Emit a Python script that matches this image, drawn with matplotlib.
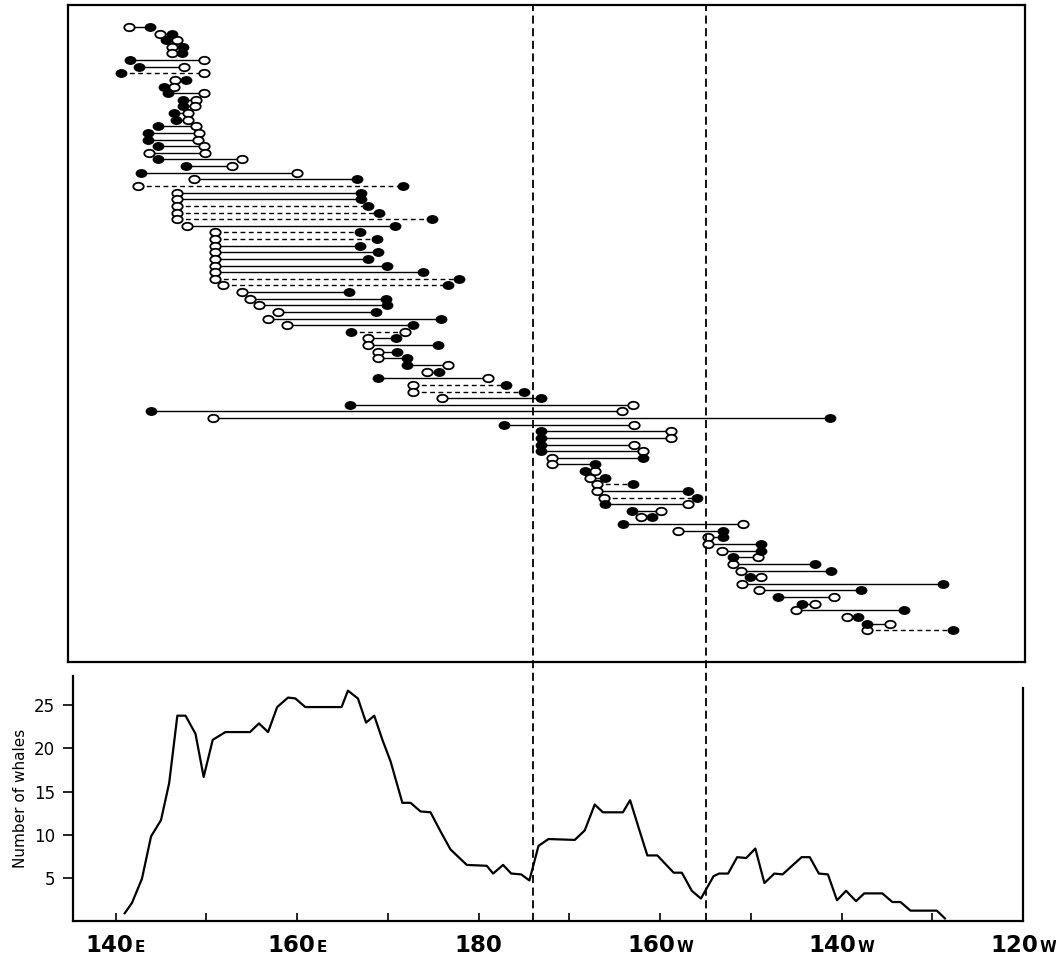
import matplotlib
matplotlib.use("Agg")
import matplotlib.pyplot as plt
import numpy as np
from matplotlib.path import Path
from matplotlib.transforms import Affine2D
from matplotlib.offsetbox import TextArea, HPacker, AnnotationBbox

# Tracks: west / east longitude (degrees east, 180 = dateline), end markers, dashed flag
# end code: first letter = west end, second = east end ("o" open, "f" filled)
west_lon = [141.4, 144.8, 145.5, 146.1, 146.1, 141.5, 142.5, 140.5, 146.5, 145.3,
            145.7, 147.3, 147.3, 146.3, 146.6, 144.6, 143.5, 143.5, 144.6, 143.6,
            144.6, 147.7, 142.7, 148.5, 142.4, 146.7, 146.7, 146.7, 146.7, 146.7,
            147.8, 150.8, 150.8, 150.8, 150.8, 150.8, 150.8, 150.8, 150.8, 151.7,
            153.8, 154.7, 155.6, 157.7, 156.6, 158.7, 165.7, 167.6, 167.6, 168.7,
            168.7, 171.8, 174.0, 168.7, 172.5, 172.5, 175.7, 165.6, 143.8, 150.6,
            182.4, 186.5, 186.5, 186.5, 186.5, 187.7, 187.7, 191.3, 191.9, 192.6,
            192.6, 193.4, 193.5, 196.5, 197.4, 195.5, 201.5, 204.8, 204.8, 206.3,
            207.5, 207.5, 208.4, 209.4, 208.5, 210.3, 212.4, 215.0, 214.4, 220.0,
            222.2, 222.2]
east_lon = [143.7, 146.1, 146.7, 147.3, 147.2, 149.6, 147.4, 149.6, 147.7, 146.3,
            149.6, 148.8, 148.6, 147.9, 147.9, 148.8, 149.1, 149.0, 149.6, 149.7,
            153.8, 152.7, 159.8, 166.4, 171.4, 166.8, 166.8, 167.6, 168.8, 174.6,
            170.5, 166.7, 168.6, 166.7, 168.7, 167.6, 169.6, 173.6, 177.5, 176.3,
            165.5, 169.5, 169.6, 168.4, 175.6, 172.5, 171.6, 170.6, 175.2, 170.7,
            171.8, 176.3, 175.3, 180.7, 182.7, 184.6, 186.5, 196.6, 195.4, 218.1,
            196.7, 200.7, 200.7, 196.7, 197.7, 197.7, 192.4, 192.4, 193.5, 196.6,
            202.6, 203.6, 202.6, 199.6, 198.6, 208.6, 206.4, 206.4, 210.6, 210.6,
            210.2, 216.5, 218.2, 210.6, 230.5, 221.5, 218.6, 216.5, 226.2, 221.2,
            224.7, 231.6]
ends = ["of", "of", "fo", "of", "of", "fo", "fo", "fo", "of", "fo",
        "fo", "fo", "fo", "fo", "fo", "fo", "fo", "fo", "fo", "oo",
        "fo", "fo", "fo", "of", "of", "of", "of", "of", "of", "of",
        "of", "of", "of", "of", "of", "of", "of", "of", "of", "of",
        "of", "of", "of", "of", "of", "of", "fo", "of", "of", "of",
        "of", "fo", "of", "fo", "of", "of", "of", "fo", "fo", "of",
        "fo", "fo", "fo", "fo", "fo", "of", "of", "fo", "of", "of",
        "of", "of", "fo", "fo", "of", "fo", "of", "of", "of", "of",
        "fo", "of", "of", "fo", "of", "of", "fo", "fo", "of", "of",
        "fo", "of"]
dashed = [0, 0, 0, 0, 0, 0, 0, 1, 0, 0,
          0, 0, 0, 0, 0, 0, 0, 0, 0, 0,
          0, 0, 0, 0, 1, 0, 0, 1, 1, 1,
          0, 1, 1, 0, 0, 0, 0, 0, 1, 1,
          0, 0, 0, 0, 0, 0, 1, 0, 0, 0,
          0, 0, 0, 0, 1, 1, 0, 0, 0, 0,
          0, 0, 0, 0, 0, 0, 0, 0, 0, 1,
          0, 1, 0, 0, 0, 0, 0, 0, 0, 0,
          0, 0, 0, 0, 0, 0, 0, 0, 0, 0,
          0, 1]

# whale count curve
count_lon = [141.0, 141.8, 142.9, 143.9, 145.0, 145.9, 146.8, 147.7, 148.8, 149.7,
             150.7, 152.1, 154.8, 155.8, 156.8, 157.8, 159.0, 159.8, 160.9, 164.9,
             165.6, 166.7, 167.6, 168.5, 169.4, 170.3, 171.6, 172.5, 173.6, 174.7,
             175.8, 176.9, 178.7, 180.9, 181.6, 182.7, 183.6, 184.7, 185.6, 186.6,
             187.7, 190.6, 191.7, 192.8, 193.7, 195.9, 196.7, 197.7, 198.6, 199.7,
             201.5, 202.4, 203.5, 204.5, 205.9, 206.5, 207.5, 208.5, 209.5, 210.5,
             211.5, 212.6, 213.5, 215.6, 216.5, 217.5, 218.5, 219.5, 220.5, 221.6,
             222.5, 224.5, 225.6, 226.5, 227.6, 230.5, 231.4]
count_val = [0.9, 2.1, 4.9, 9.8, 11.7, 16.0, 23.8, 23.8, 21.7, 16.7,
             21.0, 21.9, 21.9, 22.9, 21.9, 24.8, 25.9, 25.8, 24.8, 24.8,
             26.7, 25.8, 23.0, 23.8, 21.0, 18.5, 13.7, 13.7, 12.7, 12.6,
             10.4, 8.3, 6.5, 6.4, 5.5, 6.5, 5.5, 5.4, 4.7, 8.7,
             9.5, 9.4, 10.5, 13.5, 12.6, 12.6, 14.0, 10.6, 7.6, 7.6,
             5.6, 5.6, 3.5, 2.6, 5.2, 5.5, 5.5, 7.4, 7.3, 8.4,
             4.4, 5.5, 5.4, 7.4, 7.4, 5.5, 5.4, 2.4, 3.5, 2.3,
             3.2, 3.2, 2.2, 2.2, 1.2, 1.2, 0.3]

boundaries = [185.6, 204.5]
tick_lon = [140, 160, 180, 200, 220, 240]
tick_num = ["140", "160", "180", "160", "140", "120"]
tick_suffix = ["E", "E", "", "W", "W", "W"]

fig = plt.figure(figsize=(10.56, 9.6), dpi=100)
W, H = 1056, 960

def fig_rect(x0, x1, y0, y1):
    return [x0 / W, 1 - y1 / H, (x1 - x0) / W, (y1 - y0) / H]

ax = fig.add_axes(fig_rect(68, 1025, 5, 662))
axb = fig.add_axes(fig_rect(73, 1023, 676, 921))
ov = fig.add_axes(fig_rect(68, 1025, 5, 921), zorder=5)

xlim_top = (134.75, 239.45)
xlim_bot = (135.3, 239.2)

ell = Path.unit_circle().transformed(Affine2D().scale(1.4, 1.0))

n = len(west_lon)
op_x, op_y, fi_x, fi_y = [], [], [], []
for i in range(n):
    ls = (0, (3.5, 2.5)) if dashed[i] else "-"
    ax.plot([west_lon[i], east_lon[i]], [i, i], color="black", lw=1.0, ls=ls, zorder=2)
    for lon, code in ((west_lon[i], ends[i][0]), (east_lon[i], ends[i][1])):
        if code == "o":
            op_x.append(lon); op_y.append(i)
        else:
            fi_x.append(lon); fi_y.append(i)
ax.plot(op_x, op_y, ls="none", marker=ell, ms=7.5, mfc="white", mec="black", mew=1.3, zorder=3)
ax.plot(fi_x, fi_y, ls="none", marker=ell, ms=7.5, mfc="black", mec="black", mew=1.0, zorder=4)
ax.set_xlim(*xlim_top)
ax.set_ylim(n - 1 + 4.8, -3.3)
ax.set_xticks([]); ax.set_yticks([])
for s in ax.spines.values():
    s.set_linewidth(1.6)

# bottom panel
axb.plot(count_lon, count_val, color="black", lw=1.6)
axb.set_xlim(*xlim_bot)
axb.set_ylim(0, 28.4)
axb.spines["top"].set_visible(False)
axb.spines["right"].set_bounds(0, 27.0)
for s in ("left", "bottom", "right"):
    axb.spines[s].set_linewidth(1.6)
axb.set_yticks([5, 10, 15, 20, 25])
axb.tick_params(axis="y", direction="out", length=7, width=1.2, labelsize=12, pad=6)
axb.set_xticks(np.arange(140, 241, 10))
axb.set_xticklabels([])
axb.tick_params(axis="x", direction="in", length=6, width=1.2)
axb.set_ylabel("Number of whales", fontsize=11, labelpad=4)

num_font = dict(family=["Liberation Sans Narrow", "DejaVu Sans"], weight="bold", size=16.5)
suf_font = dict(family=["Liberation Sans Narrow", "DejaVu Sans"], weight="bold", size=11)
for lon, num, suf in zip(tick_lon, tick_num, tick_suffix):
    parts = [TextArea(num, textprops=num_font)]
    if suf:
        parts.append(TextArea(suf, textprops=suf_font))
    box = HPacker(children=parts, align="baseline", pad=0, sep=1)
    ab = AnnotationBbox(box, (lon, 0), xycoords=("data", "axes fraction"),
                        xybox=(0, -9), boxcoords="offset points",
                        box_alignment=(0.5, 1.0), frameon=False, annotation_clip=False)
    axb.add_artist(ab)

# boundary lines through both panels
ov.set_xlim(*xlim_top)
ov.set_ylim(0, 1)
ov.axis("off")
for b in boundaries:
    ov.axvline(b, color="black", lw=1.3, ls=(0, (4.5, 2.5)))

fig.savefig("out.png", dpi=100)
